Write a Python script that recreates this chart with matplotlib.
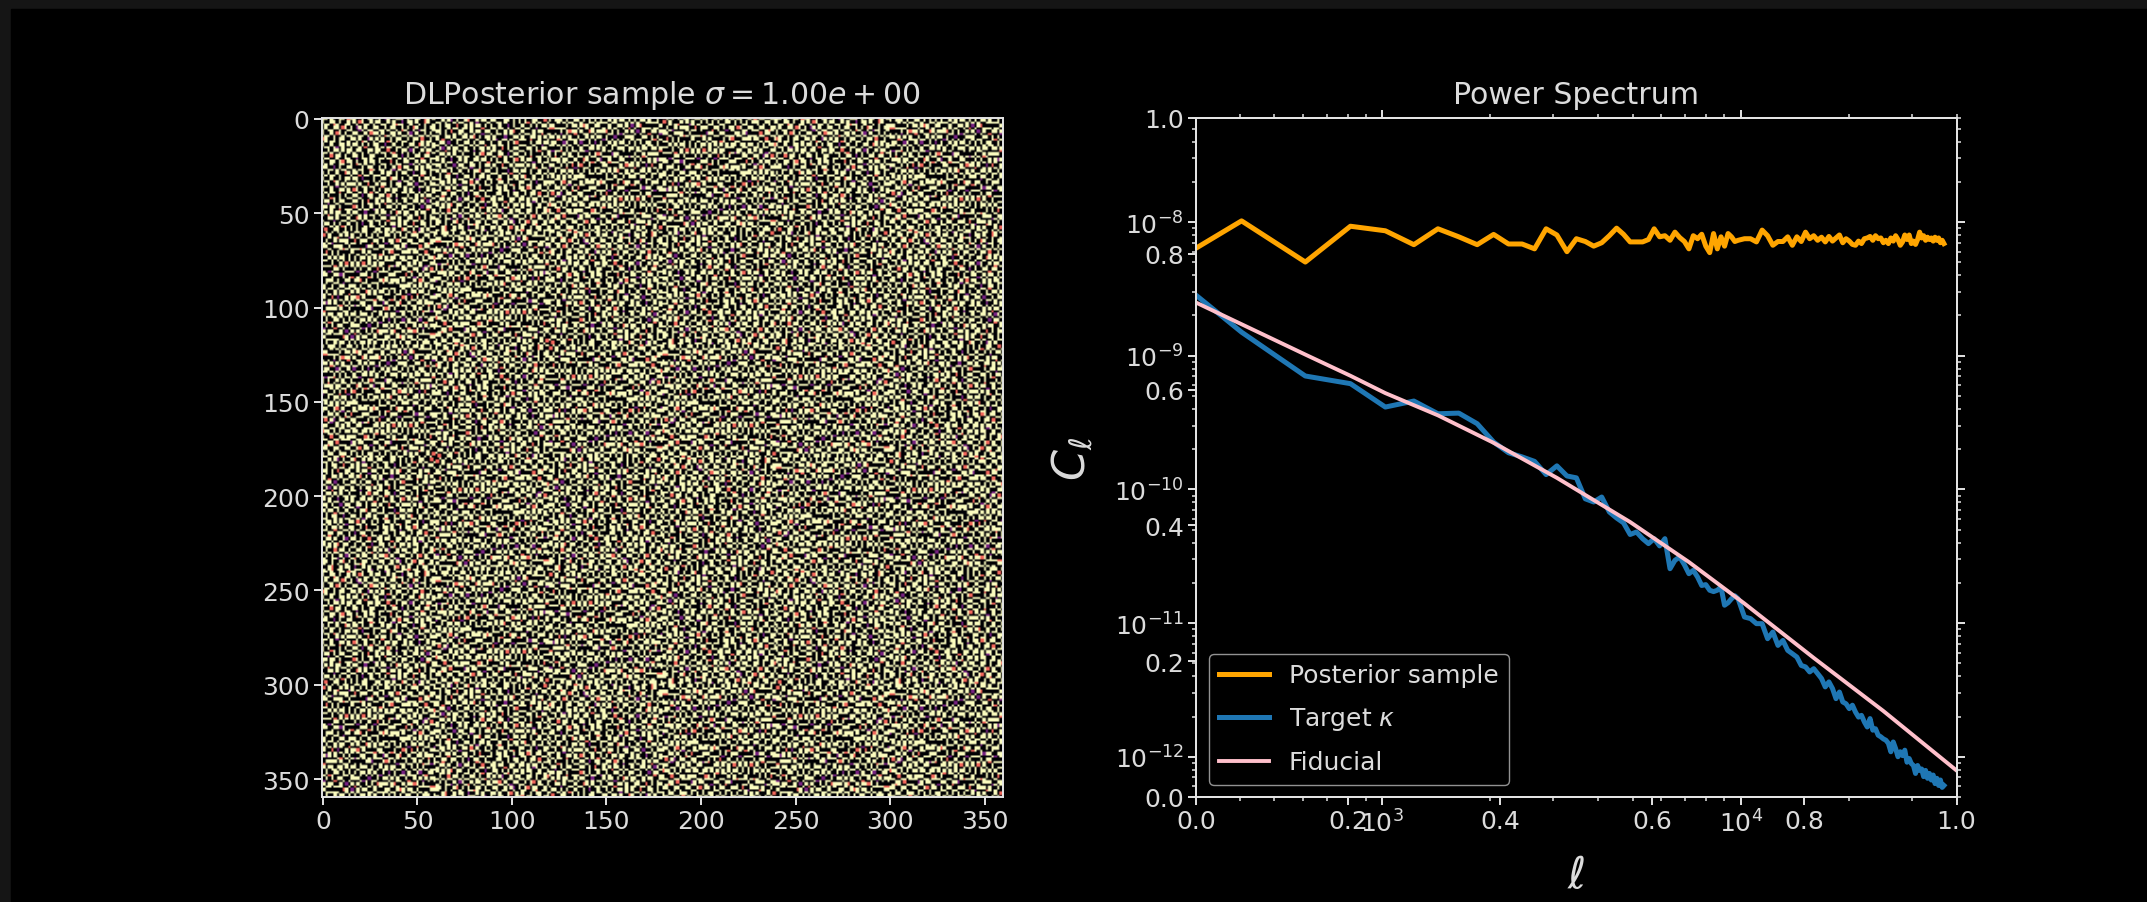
import matplotlib

matplotlib.use("Agg")
import matplotlib.pyplot as plt
import numpy as np
from matplotlib.patches import Rectangle
from matplotlib.ticker import LogLocator, NullFormatter

W, H = 2147, 903

# bandpower centres shared by the two noisy spectra
ell = [
    303, 405, 610, 815, 1020, 1225, 1430, 1635, 1840, 2045, 2250, 2455, 2660, 2865, 3070, 3275,
    3480, 3685, 3890, 4095, 4300, 4505, 4710, 4915, 5120, 5325, 5530, 5735, 5940, 6145, 6350, 6555,
    6760, 6965, 7170, 7375, 7580, 7785, 7990, 8195, 8400, 8605, 8810, 9015, 9220, 9425, 9630, 9835,
    10245, 10655, 11065, 11475, 11885, 12295, 12705, 13115, 13525, 13935, 14345, 14755, 15165, 15575,
    15985, 16395, 16805, 17215, 17625, 18035, 18445, 18855, 19265, 19675, 20085, 20495, 20905, 21315,
    21725, 22135, 22545, 22955, 23365, 23775, 24185, 24595, 25005, 25415, 25825, 26235, 26645, 27055,
    27465, 27875, 28285, 28695, 29105, 29515, 29925, 30335, 30745, 31155, 31565, 31975, 32385, 32795,
    33205, 33615, 34025, 34435, 34845, 35255, 35665, 36075, 36485, 36895,
]

# in units of 1e-9
posterior_cl = [
    6.4, 10.2, 5.02, 9.3, 8.6, 6.77, 8.9, 7.75, 6.77, 8.08, 6.85, 6.85, 6.3, 8.9, 8.0, 6.0,
    7.5, 7.15, 6.6, 7.0, 7.9, 9.0, 8.1, 7.1, 7.1, 7.1, 7.4, 8.9, 7.75, 7.9, 7.3, 8.4,
    7.65, 7.15, 6.3, 7.9, 7.5, 8.1, 6.6, 5.9, 8.2, 6.3, 7.75, 6.6, 8.2, 7.75, 7.15, 7.3,
    7.5, 7.5, 7.1, 8.7, 7.9, 6.7, 7.15, 7.15, 7.75, 6.7, 7.75, 7.15, 8.4, 7.5,
    7.9, 7.3, 7.7, 7.1, 7.8, 7.2, 7.6, 8.0, 7.0, 7.5, 7.2, 6.8, 6.7, 7.2, 6.9, 7.5, 7.6, 7.8, 7.3, 7.9,
    7.5, 7.6, 7.0, 7.3, 6.9, 7.6, 7.2, 7.9, 7.4, 6.7, 7.1, 8.0, 7.4, 8.0, 6.9, 7.2, 6.8, 7.4, 8.4, 7.6,
    7.9, 7.3, 7.7, 7.4, 7.6, 7.2, 7.7, 7.3, 7.6, 7.0, 7.3, 6.9,
]

target_cl = [
    2.82e-9, 1.50e-9, 7.05e-10, 6.18e-10, 4.13e-10, 4.58e-10, 3.68e-10, 3.72e-10, 3.10e-10, 2.26e-10,
    1.88e-10, 1.75e-10, 1.62e-10, 1.29e-10, 1.50e-10, 1.26e-10, 1.22e-10, 8.5e-11, 8.05e-11, 8.77e-11,
    6.78e-11, 6.11e-11, 5.62e-11, 4.6e-11, 4.8e-11, 4.28e-11, 3.93e-11, 4.28e-11, 3.78e-11, 4.28e-11,
    2.55e-11, 2.95e-11, 3.12e-11, 2.73e-11, 2.34e-11, 2.48e-11, 2.21e-11, 1.91e-11, 1.94e-11, 1.76e-11,
    1.72e-11, 1.76e-11, 1.86e-11, 1.36e-11, 1.42e-11, 1.52e-11, 1.60e-11, 1.52e-11,
    1.11e-11, 1.08e-11, 9.9e-12, 9.9e-12, 7.64e-12, 8.57e-12, 6.81e-12, 7.41e-12, 6.25e-12, 5.9e-12,
    5.57e-12, 4.82e-12, 4.70e-12, 4.31e-12, 4.56e-12, 4.19e-12, 3.85e-12, 3.33e-12, 3.63e-12, 3.24e-12,
    2.72e-12, 3.05e-12, 2.57e-12, 2.49e-12, 2.29e-12, 2.43e-12, 2.16e-12, 1.98e-12, 2.04e-12, 1.82e-12,
    1.67e-12, 1.93e-12, 1.58e-12, 1.62e-12, 1.45e-12, 1.41e-12, 1.36e-12, 1.33e-12, 1.26e-12, 1.09e-12,
    1.29e-12, 1.15e-12, 1.0e-12, 1.09e-12, 1.02e-12, 1.12e-12, 9.1e-13, 9.7e-13, 8.9e-13, 8.6e-13,
    7.5e-13, 8.6e-13, 7.9e-13, 8.1e-13, 7.1e-13, 7.9e-13, 6.9e-13, 7.5e-13, 6.7e-13, 7.3e-13,
    6.3e-13, 6.9e-13, 6.1e-13, 6.7e-13, 5.9e-13, 6.1e-13,
]

fid_ell = [303, 405, 610, 815, 1020, 1430, 2045, 3070, 4915, 7170, 10245, 16000, 25000, 40000]
fid_cl = [
    2.49e-9, 1.72e-9, 1.02e-9, 7.08e-10, 5.25e-10, 3.58e-10, 2.23e-10, 1.22e-10,
    5.70e-11, 2.86e-11, 1.40e-11, 5.48e-12, 2.20e-12, 7.9e-13,
]

# The 360x360 sample cannot be read cell by cell, so this is a hand-typed 40x40
# patch in the style of the top left corner, turned and repeated over the map.
patch_rows = [
    "##.#..##.p" "##..#.##.." "#.v#..###." "#..##.p#.#",
    "#..##.#..#" ".#.p#..#.#" "#..#.#..v." "##.#..p#..",
    ".##.p#..##" "..#..##.#." ".##..#p##." ".#..#.#..#",
    ".#..##.p#." "#.v#.#..##" "..#.##..#." "#.p#..#.##",
    "#.##..#..#" "#..v#.##.." "##.#..#.p#" "..#.v##..#",
    "#..#.p#.#." ".##..#.p##" ".#..##.#.." "#v.#..#.#.",
    ".##.#..#.#" "#..##.#..." "#.p#.#..##" ".#..##.#.#",
    "p#..#.##.." "##.#..v#.#" ".#..#.##.." "#.##.p..#.",
    ".#.##.#..#" "..#.p#..#." "##.p#.#.##" "..#..#.##.",
    "#..#..##.#" ".##.#.#.##" "..v..#..#." ".##.p#.#.#",
    ".##.#v.#.." "#..#.p...#" ".#.##.##.." "#..#..#..#",
    "..#.##.#.#" "#.##..##.#" "#..p..#.##" ".v#..#.##.",
    "##.#..#..#" ".#..#.#..#" ".##.#p..#." "#.#.#..p.#",
    "#..p.##.#." ".##.#..##." "..#..##.v." "#..##.##..",
    ".##..#..##" "..v.##.#.." "##.##..#.#" ".##..p..##",
    "#..##.#p.#" "#.#..#.##." "#...p.#..#" "#..#.##.#.",
    ".#.#..##.." "#.p#.#..#." ".##.#.##.." ".v#.#..#.#",
    "##..v.#..#" "#...#.##.." "#.#..#.p.#" "#..#.#.##.",
    "..##.#.##." ".#.##..p#." "##..#v.#.." "##.#.#..##",
    "#.#..#..p#" ".##.#..#.." ".#.##.#.##" "..v..##.#.",
    ".#.##.#..." "#..p.##.##" "#..#..#..." "#.##.p..#.",
    "#..#..#.##" ".##.v...#." ".##.p##.#." ".#..#.##.#",
    ".##.p#..#." "..#..##.#." "#...#..v.#" "#.#.##..#.",
    "..#..#.#.#" "##.#..p..#" ".##.#.##.." "##.v..#.##",
    "##.#.v..#." "..#.##.##." ".p..#..#.#" "..#.##.#..",
    "#..#..##.#" ".p#..#..#." "#.##.##..#" ".#..v..#.#",
    ".#.##.p..#" "#..#.#.p.#" "..#..#..##" ".##.#.#..#",
    "#.#...#.#." ".##.v.##.." "##.p#.#..." "#..#.#.##.",
    "#..p#.#..#" "#..#...#.#" "#..#..v.##" ".#.#..p..#",
    ".##.#.##.." ".##.#.p..#" ".#.##.#..#" "..##.#.v#.",
    "..v..#..##" "#...#.##.#" "#.p..#.#.." "##..#.#..#",
    "##.##.#..." ".p#.#..#.." "#..##.#.##" "..#..v.##.",
    "#..#..p.##" "#..#.##.v#" ".#...#..#." ".##.#..p.#",
    ".#.#.##..#" ".##..v...#" ".##.#.p#.#" "#..#.##..#",
    "#.p..#.##." "#..#.#.##." "#..v..#..#" ".#.#..#.#.",
    "..##.#...#" "..p#.#..#." ".##.##.#.." "##..p.#.##",
    "#...v..##." "##..#.##.#" "#..p...#.#" "#.##.#..#.",
    ".##.#.#..#" "..#.v..#.." "#.#.##.#.#" "..p..##.#.",
    "#..#.#.p#." "#.#..#.##." ".#...v.#.." "##.#..#.##",
    ".p..##..#." "#.#.##...#" "#.##.#..p#" "..#.v#.#..",
]
patch_levels = {"#": 1.0, ".": 0.0, "p": 0.68, "v": 0.35}

# quarter turns of the patch for each of the 6x6 blocks
patch_turns = [
    [0, 2, 1, 3, 0, 1],
    [3, 1, 0, 2, 2, 0],
    [1, 0, 3, 1, 3, 2],
    [2, 3, 2, 0, 1, 3],
    [0, 1, 3, 2, 0, 2],
    [3, 2, 0, 1, 3, 1],
]

patch = np.array([[patch_levels[c] for c in row] for row in patch_rows])
# the blobs in the reference are a bit wider than one patch cell: 40 -> 60 cells
widths = np.tile([1, 2], 20)
patch = np.repeat(np.repeat(patch, widths, axis=0), widths, axis=1)
sample = np.block([[np.rot90(patch, k) for k in row] for row in patch_turns])

TEXT = "#dcdcdc"
plt.rcParams.update(
    {
        "font.size": 18,
        "text.color": TEXT,
        "axes.labelcolor": TEXT,
        "axes.titlecolor": TEXT,
        "axes.edgecolor": "#e4e4e4",
        "axes.linewidth": 1.4,
        "xtick.color": "#e4e4e4",
        "ytick.color": "#e4e4e4",
        "xtick.labelcolor": TEXT,
        "ytick.labelcolor": TEXT,
        "xtick.major.size": 5.5,
        "ytick.major.size": 5.5,
        "xtick.major.width": 1.4,
        "ytick.major.width": 1.4,
        "xtick.minor.size": 3.2,
        "ytick.minor.size": 3.2,
        "xtick.minor.width": 1.1,
        "ytick.minor.width": 1.1,
    }
)


def axes_at(fig, left, right, top, bottom):
    return fig.add_axes([left / W, 1 - bottom / H, (right - left) / W, (bottom - top) / H])


fig = plt.figure(figsize=(W / 100, H / 100), dpi=100, facecolor="#151515")
fig.patches.append(Rectangle((11 / W, 0), 1, 1 - 10 / H, transform=fig.transFigure, color="black", zorder=-5))

ax_img = axes_at(fig, 322, 1002.5, 119, 798)
ax_img.imshow(sample, cmap="magma", vmin=0, vmax=1, aspect="auto", interpolation="bilinear")
ax_img.set_xticks(np.arange(0, 351, 50))
ax_img.set_yticks(np.arange(0, 351, 50))
ax_img.set_title(r"DLPosterior sample $\sigma = 1.00e+00$", fontsize=21.6, pad=11)

# plain 0-1 axes left underneath the log axes, as in the original
ax_base = axes_at(fig, 1196.4, 1956.5, 119, 798)
ax_base.set_facecolor("black")
ax_base.set_xlim(0, 1)
ax_base.set_ylim(0, 1)
ax_base.set_title("Power Spectrum", fontsize=21.6, pad=11)

ax = axes_at(fig, 1196.4, 1956.5, 119, 798)
ax.patch.set_alpha(0)
ax.plot(ell, np.array(posterior_cl) * 1e-9, color="orange", lw=3.6, label="Posterior sample")
ax.plot(ell, target_cl, color="#1f77b4", lw=3.6, label=r"Target $\kappa$")
ax.plot(fid_ell, fid_cl, color="pink", lw=2.8, label="Fiducial")
ax.set_xscale("log")
ax.set_yscale("log")
ax.set_xlim(303, 40000)
ax.set_ylim(5.0e-13, 6.0e-8)
ax.yaxis.set_major_locator(LogLocator(base=10, numticks=15))
ax.yaxis.set_minor_locator(LogLocator(base=10, subs=np.arange(2, 10), numticks=15))
ax.yaxis.set_minor_formatter(NullFormatter())
ax.xaxis.set_minor_formatter(NullFormatter())
ax.tick_params(which="both", top=True, right=True)
ax.set_xlabel(r"$\ell$", fontsize=32, labelpad=12)
ax.set_ylabel(r"$C_\ell$", fontsize=32, labelpad=14)
ax.legend(
    loc="lower left",
    fontsize=18,
    labelspacing=0.72,
    facecolor="black",
    edgecolor="#b8b8b8",
    framealpha=0.8,
    labelcolor=TEXT,
)

fig.savefig("out.png", dpi=100, facecolor=fig.get_facecolor())
plt.close(fig)
